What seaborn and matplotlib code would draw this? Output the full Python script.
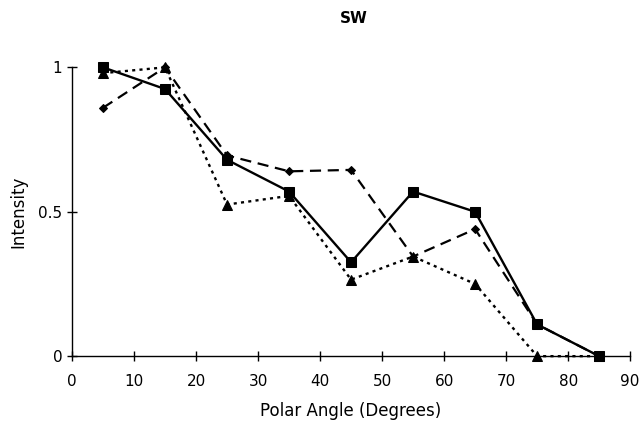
import matplotlib
matplotlib.use("Agg")
import matplotlib.pyplot as plt
import seaborn as sns
import pandas as pd

angles = [5, 15, 25, 35, 45, 55, 65, 75, 85]
square_vals = [1.0, 0.925, 0.68, 0.57, 0.325, 0.57, 0.50, 0.11, 0.0]
diamond_vals = [0.86, 1.0, 0.695, 0.64, 0.645, 0.345, 0.44, 0.11, 0.0]
triangle_vals = [0.98, 1.0, 0.525, 0.555, 0.265, 0.345, 0.25, 0.0, 0.0]
xticks = [0, 10, 20, 30, 40, 50, 60, 70, 80, 90]
yticks = [0, 0.5, 1]
yticklabels = ["0", "0.5", "1"]

sns.set_theme(style="white")
plt.rcParams['font.family'] = ['DejaVu Sans']

fig = plt.figure(figsize=(6.43, 4.21), dpi=100)
ax = fig.add_axes([0.112, 0.154, 0.868, 0.686])

df_t = pd.DataFrame({"angle": angles, "val": triangle_vals})
df_d = pd.DataFrame({"angle": angles, "val": diamond_vals})
df_s = pd.DataFrame({"angle": angles, "val": square_vals})

sns.lineplot(data=df_t, x="angle", y="val", ax=ax, color="black", linestyle=(0, (1.3, 1.8)),
             linewidth=1.7, marker="^", markersize=6.5, markeredgecolor="black", clip_on=False)
sns.lineplot(data=df_d, x="angle", y="val", ax=ax, color="black", linestyle=(0, (5, 3)),
             linewidth=1.6, marker="D", markersize=4.5, markeredgecolor="black", clip_on=False)
sns.lineplot(data=df_s, x="angle", y="val", ax=ax, color="black", linestyle="-",
             linewidth=1.7, marker="s", markersize=6.5, markeredgecolor="black", clip_on=False)

ax.set_xlim(0, 90)
ax.set_ylim(0, 1)
ax.set_xticks(xticks)
ax.set_yticks(yticks)
ax.set_yticklabels(yticklabels)
for s in ["top", "right"]:
    ax.spines[s].set_visible(False)
for s in ["left", "bottom"]:
    ax.spines[s].set_color("black")
    ax.spines[s].set_linewidth(1.0)
ax.tick_params(axis="both", direction="inout", length=7, width=1, color="black",
               labelsize=11, labelcolor="black", bottom=True, left=True)
ax.tick_params(axis="x", pad=9)
ax.set_xlabel("Polar Angle (Degrees)", fontsize=12, color="black", labelpad=10)
ax.set_ylabel("Intensity", fontsize=12, color="black", labelpad=8)
fig.text(0.55, 0.957, "SW", ha="center", va="center", fontsize=11, fontweight="bold", color="black")
ax.grid(False)

fig.savefig("out.png", dpi=100)
